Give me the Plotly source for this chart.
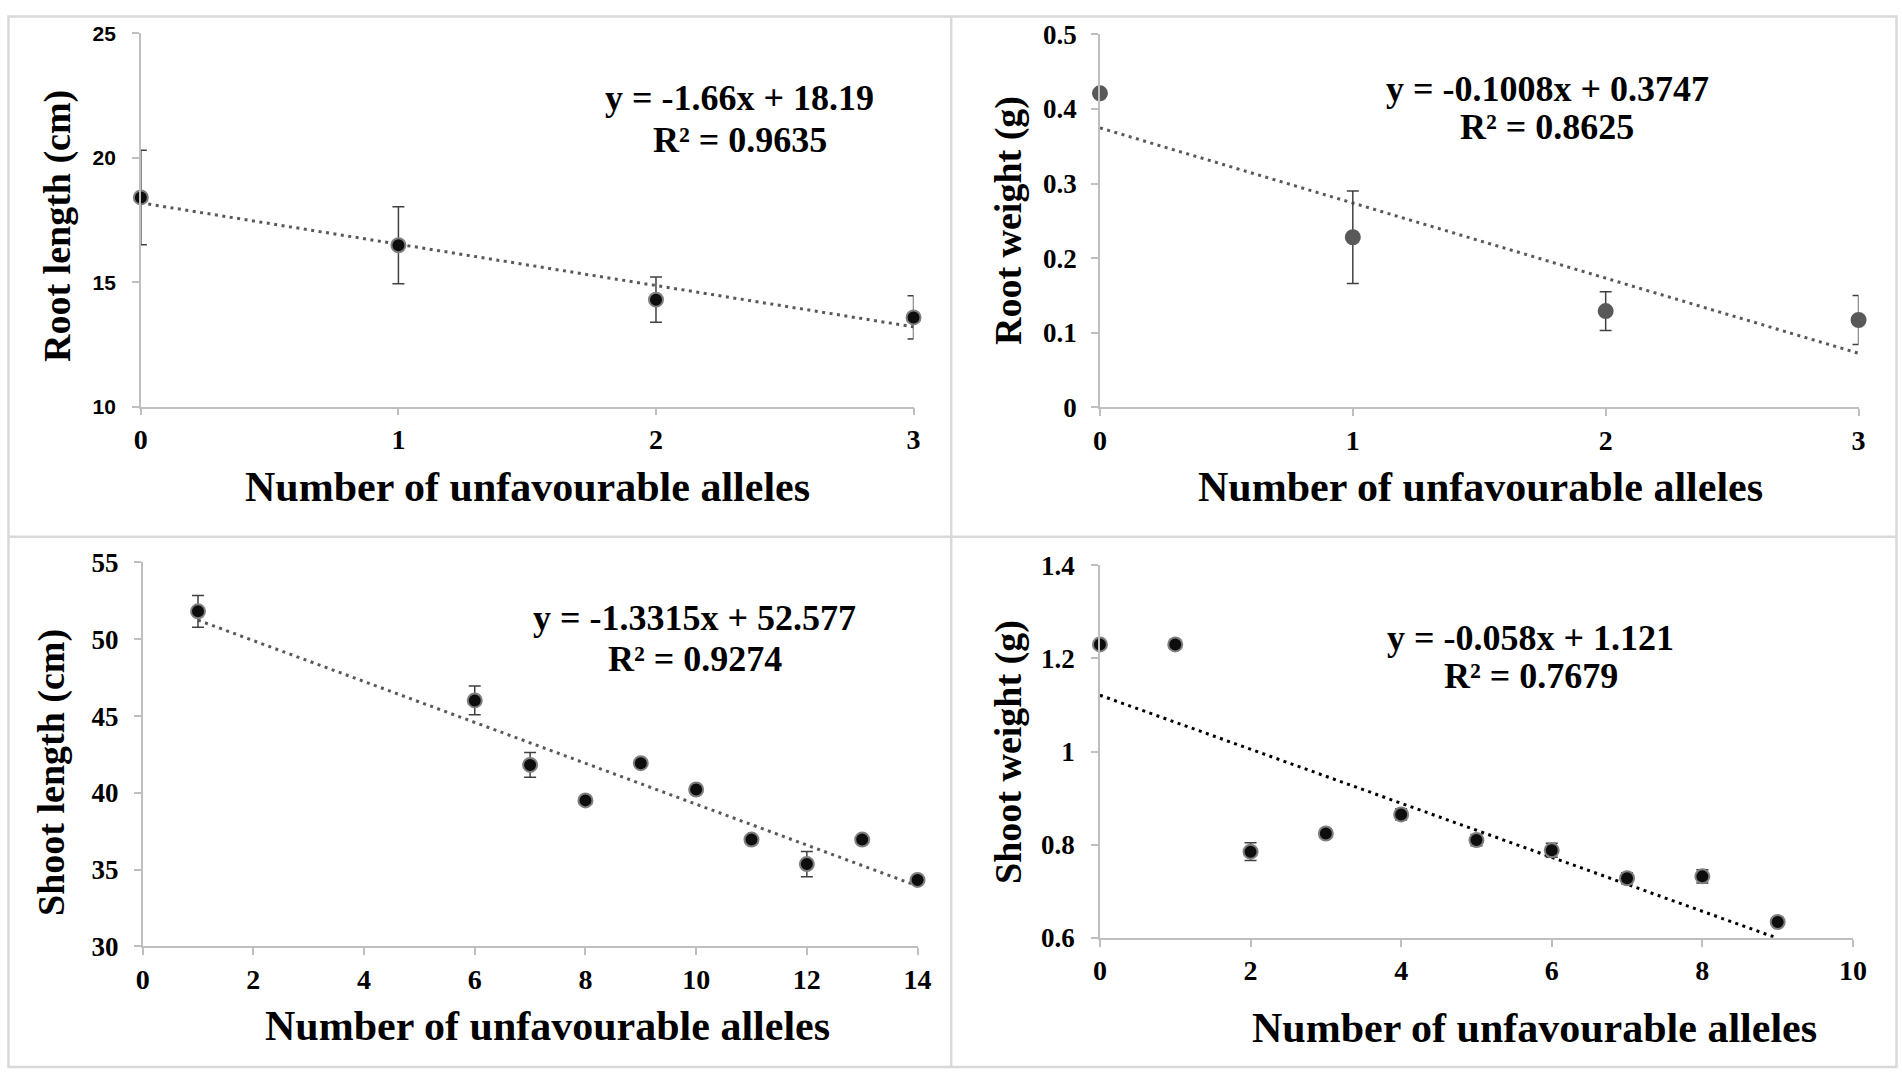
import plotly.graph_objects as go

W, H = 1902, 1073

# ---- data ----
root_len_x = [0, 1, 2, 3]
root_len_y = [18.41, 16.49, 14.30, 13.59]
root_len_err = [1.9, 1.55, 0.91, 0.87]
root_len_fit = (-1.66, 18.19, 0.9635)

root_wt_x = [0, 1, 2, 3]
root_wt_y = [0.421, 0.228, 0.129, 0.117]
root_wt_err = [0.004, 0.062, 0.026, 0.033]
root_wt_fit = (-0.1008, 0.3747, 0.8625)

shoot_len_x = [1, 6, 7, 8, 9, 10, 11, 12, 13, 14]
shoot_len_y = [51.82, 46.02, 41.82, 39.51, 41.93, 40.22, 36.96, 35.36, 36.96, 34.33]
shoot_len_err = [1.03, 0.93, 0.81, 0.2, 0.2, 0.2, 0.2, 0.82, 0.2, 0.2]
shoot_len_fit = (-1.3315, 52.577, 0.9274)

shoot_wt_x = [0, 1, 2, 3, 4, 5, 6, 7, 8, 9]
shoot_wt_y = [1.230, 1.230, 0.785, 0.824, 0.865, 0.810, 0.788, 0.728, 0.732, 0.634]
shoot_wt_err = [0.005, 0.010, 0.019, 0.010, 0.012, 0.012, 0.015, 0.012, 0.014, 0.006]
shoot_wt_fit = (-0.058, 1.121, 0.7679)

x_title = "Number of unfavourable alleles"
SERIF = "Liberation Serif"
AXIS_GREY = "#bfbfbf"

# the photographed page comes out slightly shifted/squeezed, so
# target pixel positions are mapped back to page pixels first
SX, OX = 0.99, 5.5
SY, OY = 0.974, 13.0


def px(x):
    return max((x - OX) / SX, 1.5) / W


def py(y):
    return 1 - max((y - OY) / SY, 1.5) / H


fig = go.Figure()

panels = [
    dict(x=root_len_x, y=root_len_y, err=root_len_err, fit=root_len_fit,
         ytitle="Root length (cm)", fill="#0d0d0d", edge="#7f7f7f", trend="#595959", n=""),
    dict(x=root_wt_x, y=root_wt_y, err=root_wt_err, fit=root_wt_fit,
         ytitle="Root weight (g)", fill="#595959", edge="#595959", trend="#595959", n="2"),
    dict(x=shoot_len_x, y=shoot_len_y, err=shoot_len_err, fit=shoot_len_fit,
         ytitle="Shoot length (cm)", fill="#0d0d0d", edge="#7f7f7f", trend="#595959", n="3"),
    dict(x=shoot_wt_x, y=shoot_wt_y, err=shoot_wt_err, fit=shoot_wt_fit,
         ytitle="Shoot weight (g)", fill="#0d0d0d", edge="#7f7f7f", trend="#000000", n="4"),
]

for p in panels:
    xa, ya = "x" + p["n"], "y" + p["n"]
    slope, icept, r2 = p["fit"]
    xs = [min(p["x"]), max(p["x"])]
    # linear trend line from the printed fit
    fig.add_trace(go.Scatter(
        x=xs, y=[slope * v + icept for v in xs], xaxis=xa, yaxis=ya,
        mode="lines", line=dict(color=p["trend"], width=3, dash="3px,4.5px"),
        hoverinfo="skip", showlegend=False,
    ))
    fig.add_trace(go.Scatter(
        x=p["x"], y=p["y"], xaxis=xa, yaxis=ya, mode="markers",
        marker=dict(size=14, color=p["fill"], line=dict(color=p["edge"], width=2)),
        error_y=dict(type="data", array=p["err"], visible=True,
                     color="#404040", thickness=1.5, width=6),
        cliponaxis=False, showlegend=False,
    ))

# axis geometry in pixels: (x0, x1, ytop, ybottom)
boxes = {
    "": (139.5, 913, 31.5, 405.5),
    "2": (1099.6, 1859, 32.5, 406),
    "3": (141.3, 917, 561.6, 946.3),
    "4": (1099.6, 1853.4, 564.4, 937.7),
}
xranges = {"": [0, 3], "2": [0, 3], "3": [0, 14], "4": [0, 10]}
xdticks = {"": 1, "2": 1, "3": 2, "4": 2}
yranges = {"": [10, 25], "2": [0, 0.5], "3": [30, 55], "4": [0.6, 1.4]}
ydticks = {"": 5, "2": 0.1, "3": 5, "4": 0.2}
ystand = {"": 12, "2": 9, "3": 10, "4": 11}

layout = {}
for n, (x0, x1, yt, yb) in boxes.items():
    layout["xaxis" + n] = dict(
        domain=[px(x0), px(x1)], anchor="y" + n, range=xranges[n], dtick=xdticks[n],
        showline=True, linecolor=AXIS_GREY, linewidth=1.5, showgrid=False, zeroline=False,
        ticks="outside", ticklen=7, tickcolor=AXIS_GREY, tickwidth=1.5,
        tickfont=dict(family=SERIF, size=28, color="#000000", weight="bold"),
        ticklabelstandoff=0,
    )
    if n == "":
        yfont = dict(family="Liberation Sans", size=21, color="#000000", weight="bold")
    else:
        yfont = dict(family=SERIF, size=27, color="#000000", weight="bold")
    layout["yaxis" + n] = dict(
        domain=[py(yb), py(yt)], anchor="x" + n, range=yranges[n], dtick=ydticks[n],
        showline=True, linecolor=AXIS_GREY, linewidth=1.5, showgrid=False, zeroline=False,
        ticks="outside", ticklen=7, tickcolor=AXIS_GREY, tickwidth=1.5,
        tickfont=yfont, ticklabelstandoff=ystand[n],
    )

fig.update_layout(
    width=W, height=H, margin=dict(l=0, r=0, t=0, b=0),
    paper_bgcolor="white", plot_bgcolor="white", showlegend=False,
    **layout,
)

# axis titles and the two fit lines (pixel positions of their centres)
xt_pos = [(526.7, 486), (1481, 486), (547, 1026), (1535, 1028)]
yt_pos = [(56, 224), (1008, 219), (50, 772), (1008, 751)]
eq1_pos = [(739, 96), (1547.5, 87), (694, 617), (1531, 637)]
eq2_pos = [(739, 138), (1547.5, 125), (694, 658), (1531, 675)]


def bold(size):
    return dict(family=SERIF, size=size, color="#000000", weight="bold")


for i, p in enumerate(panels):
    slope, icept, r2 = p["fit"]
    fig.add_annotation(x=px(xt_pos[i][0]), y=py(xt_pos[i][1]), xref="paper", yref="paper",
                       text=x_title, showarrow=False, xanchor="center", yanchor="middle",
                       font=bold(42))
    fig.add_annotation(x=px(yt_pos[i][0]), y=py(yt_pos[i][1]), xref="paper", yref="paper",
                       text=p["ytitle"], showarrow=False, textangle=-90,
                       xanchor="center", yanchor="middle", font=bold(38))
    fig.add_annotation(x=px(eq1_pos[i][0]), y=py(eq1_pos[i][1]), xref="paper", yref="paper",
                       text="y = %sx + %s" % (repr(slope), repr(icept)), showarrow=False,
                       xanchor="center", yanchor="middle", font=bold(36))
    fig.add_annotation(x=px(eq2_pos[i][0]), y=py(eq2_pos[i][1]), xref="paper", yref="paper",
                       text="R² = %s" % repr(r2), showarrow=False,
                       xanchor="center", yanchor="middle", font=bold(36))

# panel frames
frame = dict(color="#d9d9d9", width=2.5)
fig.add_shape(type="rect", xref="paper", yref="paper",
              x0=px(5), x1=px(1897), y0=py(1067), y1=py(5), line=frame)
fig.add_shape(type="line", xref="paper", yref="paper",
              x0=px(950.7), x1=px(950.7), y0=py(1067), y1=py(5), line=frame)
fig.add_shape(type="line", xref="paper", yref="paper",
              x0=px(5), x1=px(1897), y0=py(535.7), y1=py(535.7), line=frame)

# pin the graph to the top-left corner of the page, no body margin
pin = ("var gd = document.getElementById('{plot_id}');"
       "gd.style.position = 'fixed'; gd.style.left = '0px'; gd.style.top = '0px';"
       "document.body.style.margin = '0'; document.body.style.overflow = 'hidden';")

fig.write_html("out.html", post_script=pin, config={"displayModeBar": False})
